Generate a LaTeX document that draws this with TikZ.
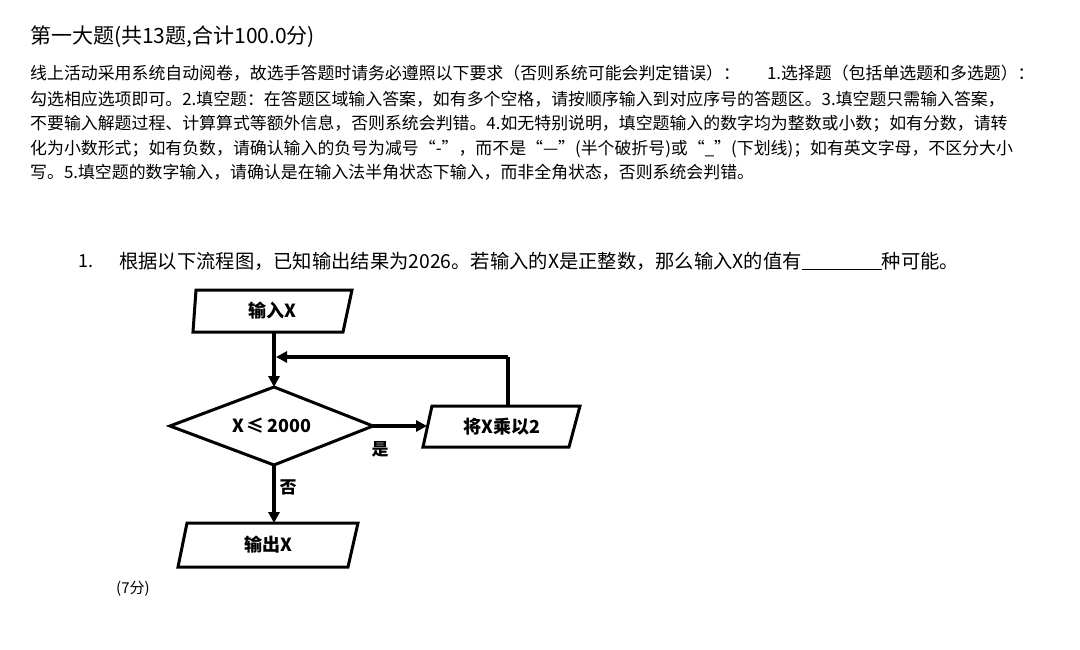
\documentclass[tikz,border=0pt]{standalone}
\usepackage{fontspec}
\setmainfont{Noto Sans CJK SC}
\usetikzlibrary{arrows.meta}
\begin{document}
\begin{tikzpicture}[x=1pt,y=-1pt,
  shp/.style={draw,line width=3pt,line join=miter},
  arr/.style={line width=3.4pt,-{Triangle[length=11pt,width=11pt]}},
  ln/.style={line width=3.4pt},
  lbl/.style={font=\fontsize{18}{18}\selectfont\bfseries},
  txt/.style={anchor=west,inner sep=0pt,font=\fontsize{16.9}{17}\selectfont}]
\useasboundingbox (0,0) rectangle (1080,650);
\fill[white] (0,0) rectangle (1080,650);
\node[anchor=west,inner sep=0pt,font=\fontsize{21}{21}\selectfont] (h) at (30,37) {第一大题(共13题,合计100.0分)};
\node[txt] (l1) at (30,73) {线上活动采用系统自动阅卷，故选手答题时请务必遵照以下要求（否则系统可能会判定错误）：\hspace{1.6em}1.选择题（包括单选题和多选题）：};
\node[txt] (l2) at (30,99) {勾选相应选项即可。2.填空题：在答题区域输入答案，如有多个空格，请按顺序输入到对应序号的答题区。3.填空题只需输入答案，};
\node[txt] (l3) at (30,124) {不要输入解题过程、计算算式等额外信息，否则系统会判错。4.如无特别说明，填空题输入的数字均为整数或小数；如有分数，请转};
\node[txt] (l4) at (30,149) {化为小数形式；如有负数，请确认输入的负号为减号“-”，而不是“—”(半个破折号)或“\_”(下划线)；如有英文字母，不区分大小};
\node[txt] (l5) at (30,172) {写。5.填空题的数字输入，请确认是在输入法半角状态下输入，而非全角状态，否则系统会判错。};
\node[txt,font=\fontsize{18}{18}\selectfont] (qn) at (78,261) {1.};
\node[txt,font=\fontsize{19.3}{19}\selectfont] (q) at (119,261) {根据以下流程图，已知输出结果为2026。若输入的X是正整数，那么输入X的值有\rule[-2pt]{80pt}{0.8pt}种可能。};
% shapes
\draw[shp] (196,290) -- (352,290) -- (343,332) -- (193,332) -- cycle;
\node[lbl] (in) at (272,311) {输入X};
\draw[shp] (274,387) -- (373,426) -- (274,465) -- (170,426) -- cycle;
\coordinate (dt) at (274,387); \coordinate (dr) at (373,426); \coordinate (db) at (274,465);
\node[lbl] (cond) at (272,426) {X\,≤\,2000};
\draw[shp] (432,406) -- (580,406) -- (569,447) -- (423,447) -- cycle;
\node[lbl] (mul) at (502,427) {将X乘以2};
\draw[shp] (187,523) -- (358,523) -- (348,567) -- (178,567) -- cycle;
\node[lbl] (out) at (268,545) {输出X};
\coordinate (inb) at (274,332); \coordinate (mt) at (508,406);
\coordinate (j) at (276,357); \coordinate (c) at (508,357);
\coordinate (ml) at (427,426); \coordinate (ot) at (274,523);
\draw[arr] (inb) -- (dt);
\draw[ln] (mt) -- (c);
\draw[arr] (c) -- (j);
\draw[arr] (dr) -- (ml);
\draw[arr] (db) -- (ot);
\node[font=\fontsize{17}{17}\selectfont\bfseries] (yes) at (380,449) {是};
\node[font=\fontsize{17}{17}\selectfont\bfseries] (no) at (288,487) {否};
\node[txt,font=\fontsize{15}{15}\selectfont] (pt) at (116,589) {(7分)};
\end{tikzpicture}
\end{document}
